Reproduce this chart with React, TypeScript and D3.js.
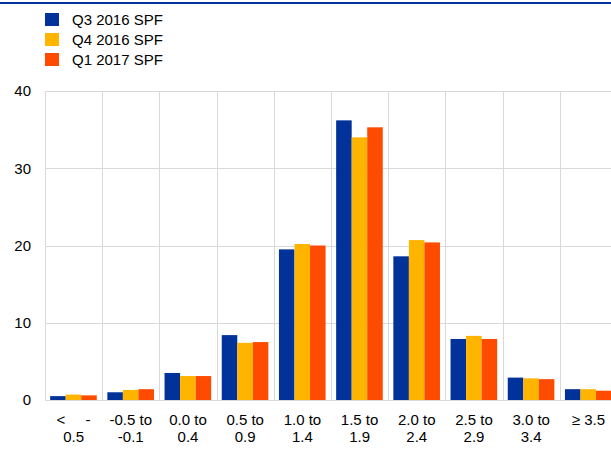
import * as d3 from 'd3';
import React, { useEffect, useRef } from 'react';

// bins of the probability distribution (per cent)
const categories: string[][] = [
  ['< -', '0.5'],
  ['-0.5 to', '-0.1'],
  ['0.0 to', '0.4'],
  ['0.5 to', '0.9'],
  ['1.0 to', '1.4'],
  ['1.5 to', '1.9'],
  ['2.0 to', '2.4'],
  ['2.5 to', '2.9'],
  ['3.0 to', '3.4'],
  ['≥ 3.5'],
];

const seriesNames = ['Q3 2016 SPF', 'Q4 2016 SPF', 'Q1 2017 SPF'];
const seriesColors = ['#003299', '#FFB400', '#FF4B00'];

const q3_2016 = [0.5, 1.0, 3.5, 8.4, 19.5, 36.2, 18.6, 7.9, 2.9, 1.4];
const q4_2016 = [0.7, 1.3, 3.1, 7.4, 20.2, 34.0, 20.7, 8.3, 2.8, 1.4];
const q1_2017 = [0.6, 1.4, 3.1, 7.5, 20.0, 35.3, 20.4, 7.9, 2.7, 1.2];

const yTicks = [0, 10, 20, 30, 40];

const App: React.FC = () => {
  const svgRef = useRef<SVGSVGElement>(null);

  useEffect(() => {
    if (!svgRef.current) return;
    document.body.style.margin = '0';

    const width = 611;
    const height = 460;
    const margin = { top: 91, left: 45, bottom: 60 };
    const catWidth = 57.2;
    const font = '"Liberation Sans", Arial, sans-serif';

    const svg = d3.select(svgRef.current)
      .attr('width', width)
      .attr('height', height)
      .style('display', 'block')
      .style('font-family', font);
    svg.selectAll('*').remove();

    const values = [q3_2016, q4_2016, q1_2017];

    const x0 = d3.scaleBand<number>()
      .domain(d3.range(categories.length))
      .range([margin.left, margin.left + catWidth * categories.length])
      .padding(0);

    const x1 = d3.scaleBand<number>()
      .domain(d3.range(seriesNames.length))
      .range([x0.bandwidth() * 0.09, x0.bandwidth() * 0.905])
      .padding(0);

    const y = d3.scaleLinear()
      .domain([0, 40])
      .range([height - margin.bottom, margin.top]);

    // top rule
    svg.append('rect')
      .attr('x', 0)
      .attr('y', 2)
      .attr('width', width)
      .attr('height', 2)
      .attr('fill', '#003299');

    // grid
    const grid = svg.append('g').attr('stroke', '#d9d9d9').attr('stroke-width', 1);
    grid.selectAll('line.h')
      .data(yTicks)
      .join('line')
      .attr('class', 'h')
      .attr('x1', margin.left)
      .attr('x2', width + 10)
      .attr('y1', d => Math.round(y(d)) + 0.5)
      .attr('y2', d => Math.round(y(d)) + 0.5);
    grid.selectAll('line.v')
      .data(d3.range(categories.length + 1))
      .join('line')
      .attr('class', 'v')
      .attr('x1', d => Math.round(margin.left + d * catWidth) + 0.5)
      .attr('x2', d => Math.round(margin.left + d * catWidth) + 0.5)
      .attr('y1', y(40))
      .attr('y2', y(0));

    // bars
    const groups = svg.append('g')
      .selectAll('g')
      .data(categories.map((_, i) => i))
      .join('g')
      .attr('transform', d => `translate(${x0(d)},0)`);

    groups.selectAll('rect')
      .data(i => values.map((s, k) => ({ k, v: s[i] })))
      .join('rect')
      .attr('x', d => x1(d.k) as number)
      .attr('width', x1.bandwidth())
      .attr('y', d => y(d.v))
      .attr('height', d => y(0) - y(d.v))
      .attr('fill', d => seriesColors[d.k]);

    // y axis labels
    svg.append('g')
      .selectAll('text')
      .data(yTicks)
      .join('text')
      .attr('x', 31)
      .attr('y', d => y(d))
      .attr('dy', '0.35em')
      .attr('text-anchor', 'end')
      .attr('font-size', 15)
      .attr('fill', '#000')
      .text(d => d);

    // x axis labels
    const xl = svg.append('g')
      .selectAll('text')
      .data(categories.map((lines, i) => ({ lines, i })))
      .join('text')
      .attr('text-anchor', 'middle')
      .attr('font-size', 15)
      .attr('fill', '#000');

    xl.each(function (d) {
      const cx = (x0(d.i) as number) + x0.bandwidth() / 2;
      d.lines.forEach((line, j) => {
        const t = d3.select(this)
          .append('tspan')
          .attr('x', cx)
          .attr('y', 425 + j * 17)
          .text(line);
        if (line === '< -') {
          t.attr('textLength', 34).attr('lengthAdjust', 'spacing');
        }
      });
    });

    // legend
    const legend = svg.append('g')
      .selectAll('g')
      .data(seriesNames.map((name, k) => ({ name, k })))
      .join('g')
      .attr('transform', d => `translate(0,${20 + d.k * 20})`);

    legend.append('rect')
      .attr('x', 45)
      .attr('y', -7)
      .attr('width', 14)
      .attr('height', 13)
      .attr('fill', d => seriesColors[d.k]);

    legend.append('text')
      .attr('x', 72)
      .attr('y', 0)
      .attr('dy', '0.35em')
      .attr('font-size', 15)
      .attr('fill', '#000')
      .text(d => d.name);
  }, []);

  return <svg ref={svgRef} />;
};

export default App;
